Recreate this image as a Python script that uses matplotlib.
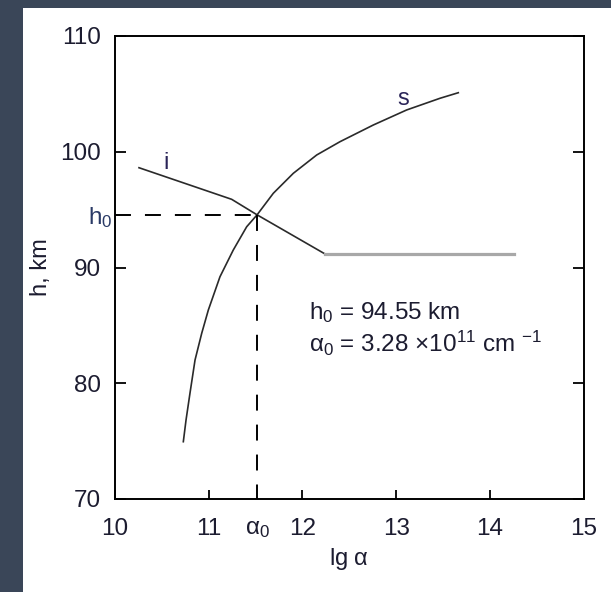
import matplotlib

matplotlib.use("Agg")
import matplotlib.pyplot as plt
from matplotlib.patches import Rectangle

plt.rcParams["font.family"] = ["Liberation Sans", "DejaVu Sans"]
plt.rcParams["mathtext.fontset"] = "custom"
plt.rcParams["mathtext.rm"] = "Liberation Sans"
plt.rcParams["mathtext.it"] = "Liberation Sans"

# curve s (lg alpha, h)
S_LGA = [10.729, 10.758, 10.800, 10.854, 10.925, 10.996, 11.120, 11.262, 11.405,
         11.516, 11.689, 11.903, 12.152, 12.401, 12.756, 13.112, 13.468, 13.663]
S_H = [74.95, 76.83, 79.14, 82.01, 84.31, 86.33, 89.20, 91.51, 93.52,
       94.55, 96.41, 98.14, 99.72, 100.87, 102.31, 103.61, 104.62, 105.10]

# curve i
I_LGA = [10.256, 11.245, 11.516, 12.241]
I_H = [98.62, 95.89, 94.55, 91.17]
I_FLAT_LGA = [12.241, 14.26]
I_FLAT_H = [91.17, 91.17]

LGA0 = 11.516
H0 = 94.55

X_TICKS = [10, 11, LGA0, 12, 13, 14, 15]
X_LABELS = ["10", "11", r"$\alpha_0$", "12", "13", "14", "15"]
Y_TICKS = [70, 80, 90, H0, 100, 110]
Y_LABELS = ["70", "80", "90", r"h$_0$", "100", "110"]

TXT = "#1c1c30"


def main() -> None:
    fig = plt.figure(figsize=(6.11, 5.92), dpi=100, facecolor="#3a4658")
    fig.patches.append(Rectangle((23 / 611, 0), 1, 1 - 8 / 592, transform=fig.transFigure,
                                 facecolor="white", edgecolor="none", zorder=-10))
    ax = fig.add_axes([115 / 611, 93 / 592, (583.6 - 115) / 611, (499 - 36) / 592])
    ax.set_facecolor("white")

    ax.plot(S_LGA, S_H, color="#2a2a2a", lw=1.2)
    ax.plot(I_LGA, I_H, color="#2a2a2a", lw=1.2)
    ax.plot(I_FLAT_LGA, I_FLAT_H, color="#a8a8a8", lw=2.3)

    ax.plot([10, LGA0], [H0, H0], color="black", lw=1.4, dashes=(8.2, 7.2))
    ax.plot([LGA0, LGA0], [H0, 70], color="black", lw=1.4, dashes=(8.2, 7.2))

    ax.text(10.544, 98.51, "i", fontsize=17, color="#2a2458", ha="center", va="baseline")
    ax.text(13.08, 104.04, "s", fontsize=17, color="#2a2458", ha="center", va="baseline")

    ax.text(12.07, 86.07, r"h$_0$ = 94.55 km", fontsize=17.5, color=TXT, va="center")
    ax.text(12.07, 83.4, r"$\alpha_0$ = 3.28 $\times$10$^{11}$ cm $^{-1}$",
            fontsize=17.5, color=TXT, va="center")

    ax.set_xlim(10, 15)
    ax.set_ylim(70, 110)
    ax.set_xticks(X_TICKS, X_LABELS)
    ax.set_yticks(Y_TICKS, Y_LABELS)
    ax.tick_params(direction="in", width=1.3, labelsize=17.5, labelcolor=TXT, right=True)
    ax.tick_params(axis="x", length=6.5, pad=14)
    ax.tick_params(axis="y", length=8, pad=10)
    # no tick marks at the crossing point, only labels
    ax.xaxis.get_major_ticks()[2].tick1line.set_visible(False)
    h0_tick = ax.yaxis.get_major_ticks()[3]
    h0_tick.tick1line.set_visible(False)
    h0_tick.tick2line.set_visible(False)
    h0_tick.label1.set_color("#2a3a66")
    h0_tick.set_pad(2)
    for s in ax.spines.values():
        s.set_linewidth(1.4)

    ax.set_xlabel(r"lg $\alpha$", fontsize=17, color=TXT, labelpad=4)
    ax.set_ylabel("h, km", fontsize=17, color=TXT, labelpad=6)

    fig.savefig("out.png", dpi=100, facecolor=fig.get_facecolor())


if __name__ == "__main__":
    main()
